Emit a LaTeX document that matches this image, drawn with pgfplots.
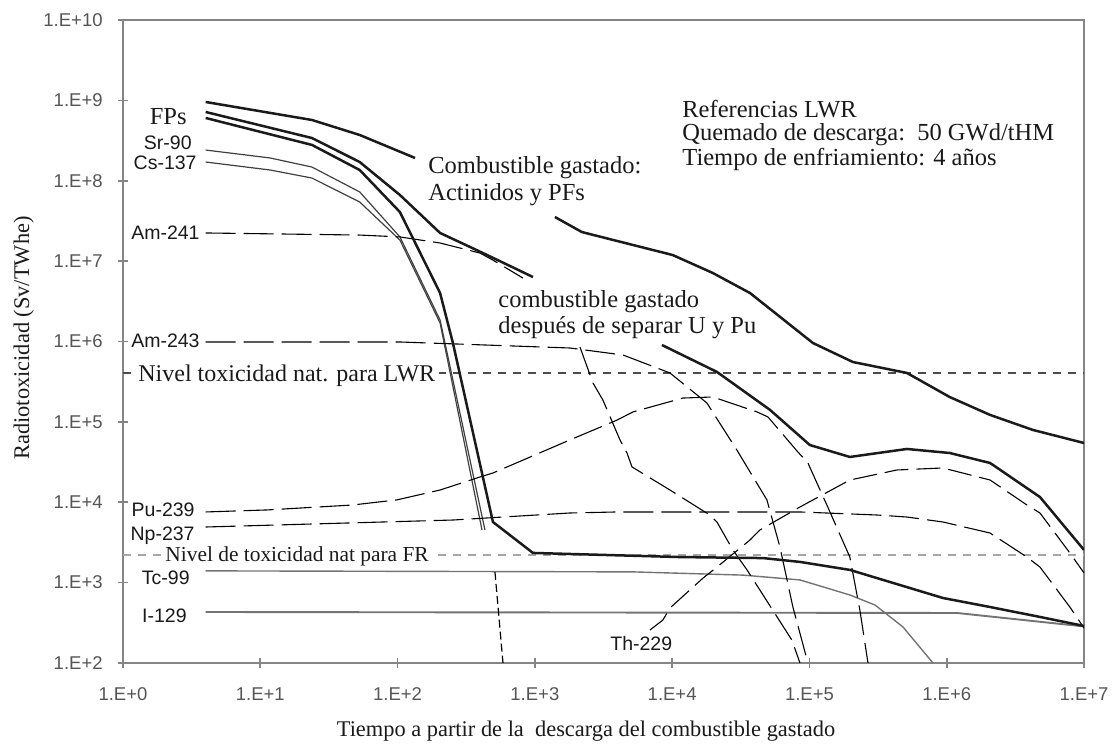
\documentclass[border=0pt]{standalone}
\usepackage{fontspec}
\setmainfont{Liberation Serif}
\newfontfamily\arial{Liberation Sans}
\usepackage{pgfplots}
\pgfplotsset{compat=1.18}

\definecolor{axisgray}{HTML}{858585}
\definecolor{tickgray}{HTML}{555555}
\definecolor{inkdark}{HTML}{1A1A1A}
\definecolor{thin}{HTML}{3A3A3A}

\newcommand\ann{\fontsize{12.25}{14}\selectfont}
\newcommand\axlab{\fontsize{11.2}{13}\selectfont}
\newcommand\iso{\arial\fontsize{9.75}{11}\selectfont}

\pgfplotsset{
  total/.style={inkdark, line width=1.25pt, line join=round},
  iso/.style={thin, line width=0.55pt, line join=round},
  isodash/.style={thin, line width=0.55pt, dash pattern=on 15pt off 4pt, line join=round},
}

\begin{document}
\begin{tikzpicture}
\path[use as bounding box] (0,0) rectangle (557.5pt,372pt);
\begin{axis}[
  at={(61.5pt,40.5pt)}, anchor=south west,
  width=480.5pt, height=321.5pt, scale only axis,
  xmode=log, ymode=log,
  xmin=1, xmax=1e7, ymin=1e2, ymax=1e10,
  xtick={1,10,100,1000,10000,100000,1000000,10000000},
  xticklabels={1.E+0,1.E+1,1.E+2,1.E+3,1.E+4,1.E+5,1.E+6,1.E+7},
  ytick={1e2,1e3,1e4,1e5,1e6,1e7,1e8,1e9,1e10},
  yticklabels={1.E+2,1.E+3,1.E+4,1.E+5,1.E+6,1.E+7,1.E+8,1.E+9,1.E+10},
  xminorticks=false, yminorticks=false,
  tick pos=left, tick align=center, major tick length=5pt,
  axis line style={draw=axisgray, line width=0.9pt},
  every tick/.style={draw=axisgray, line width=0.8pt},
  tick label style={font=\iso\fontsize{9.25}{11}\selectfont, text=tickgray, inner sep=0pt},
  xticklabel style={anchor=north},
  yticklabel style={anchor=east},
  xticklabel shift=9.5pt,
  yticklabel shift=7.5pt,
]

% natural toxicity levels
\addplot[black!70, line width=0.7pt, dash pattern=on 4pt off 3.5pt] coordinates {(1,4.06e5) (1e7,4.06e5)};
\addplot[black!35, line width=1pt, dash pattern=on 4pt off 3.5pt] coordinates {(1,2.21e3) (1e7,2.21e3)};

% long-lived fission products
\addplot[black!55, line width=0.7pt] coordinates {(4,1.4e3) (5180,1.36e3) (32800,1.24e3) (85300,1.08e3) (197000,702) (300000,527) (480000,281) (794000,100)};
\addplot[black!55, line width=0.95pt] coordinates {(4,431) (1.19e6,419) (1e7,285)};

% short-lived fission products
\addplot[iso, black!75, line width=0.6pt] coordinates {(4,2.41e8) (11.8,1.92e8) (23.8,1.48e8) (53,7.25e7) (104,2.0e7) (204,1.85e6) (433,4.52e3)};
\addplot[iso, black!75, line width=0.6pt] coordinates {(4,1.71e8) (11.8,1.36e8) (23.8,1.08e8) (53,5.44e7) (104,1.83e7) (204,1.7e6) (412,4.52e3)};
\addplot[thin, line width=0.6pt, dash pattern=on 4pt off 2pt] coordinates {(512,1.36e3) (586,100)};

% actinides
\addplot[isodash] coordinates {(4,2.24e7) (53,2.11e7) (104,2.0e7) (204,1.68e7) (398,1.26e7) (495,1.03e7) (819,6.16e6)};
\addplot[isodash] coordinates {(2130,8.55e5) (2650,3.05e5) (3130,1.87e5) (4170,5.96e4) (4690,4.1e4) (5100,2.75e4) (9640,1.42e4) (18800,6.94e3) (21200,5.68e3) (27700,2.55e3) (35100,1.44e3) (74500,193) (85300,100)};
\addplot[isodash] coordinates {(4,9.86e5) (104,9.86e5) (1800,8.3e5) (4390,6.79e5) (9640,4.06e5) (17900,1.72e5) (29600,4.47e4) (49000,1.07e4) (61000,2.77e3) (75800,497) (97500,100)};
\addplot[isodash] coordinates {(4,7.57e3) (11.2,8.02e3) (47,9.24e3) (99,1.07e4) (204,1.42e4) (398,2.06e4) (495,2.31e4) (1800,5.96e4) (3960,1.05e5) (5180,1.33e5) (12000,1.98e5) (19800,2.04e5) (41500,1.33e5) (49900,1.15e5) (82400,4.22e4) (97500,3.08e4) (136000,8.73e3) (197000,2.08e3) (233000,456) (267000,100)};
\addplot[isodash] coordinates {(4,4.92e3) (253,6.01e3) (1800,7.35e3) (3960,7.57e3) (85300,7.57e3) (310000,6.94e3) (513000,6.55e3) (938000,5.68e3) (2.07e6,4.14e3) (3.84e6,2.08e3) (4.78e6,1.56e3) (7.89e6,497) (1e7,272)};
\addplot[isodash, dash pattern=on 12pt off 4pt] coordinates {(6890,257) (8570,343) (9640,483) (16800,1.14e3) (21200,1.56e3) (36900,3.39e3) (43600,4.52e3) (85300,8.73e3) (197000,1.89e4) (434000,2.52e4) (938000,2.67e4) (2.07e6,1.89e4) (3.84e6,9.24e3) (4.78e6,7.35e3) (7.89e6,2.34e3) (1e7,1.32e3)};

% totals
\addplot[total] coordinates {(4,6.04e8) (23.8,2.79e8) (53,1.36e8) (104,4.08e7) (204,4.01e6) (253,9.58e5) (495,5.68e3) (969,2.34e3) (11400,2.08e3) (45900,2.02e3) (85300,1.81e3) (197000,1.44e3) (938000,644) (2.07e6,497) (4.78e6,374) (1e7,289)};
\addplot[total] coordinates {(4,7.17e8) (23.8,3.4e8) (53,1.71e8) (104,6.65e7) (204,2.24e7) (419,1.26e7) (969,6.34e6)};
\addplot[total] coordinates {(8430,9.04e5) (21200,4.18e5) (51600,1.41e5) (100700,5.15e4) (197000,3.66e4) (513000,4.6e4) (1.05e6,4.1e4) (2.07e6,3.08e4) (4.78e6,1.16e4) (1e7,2.55e3)};
\addplot[total] coordinates {(4,9.55e8) (23.8,5.7e8) (53,3.71e8) (134,1.92e8)};
\addplot[total] coordinates {(1400,3.54e7) (2200,2.3e7) (10100,1.19e7) (19800,7.11e6) (36900,4.01e6) (106000,9.58e5) (207000,5.56e5) (513000,4.06e5) (1.05e6,2.04e5) (2.07e6,1.22e5) (4.25e6,7.93e4) (1e7,5.46e4)};
\end{axis}

\begin{scope}[x=0.5pt, y=-0.5pt, yshift=372pt, every node/.style={inner sep=0pt, text=inkdark}]
  % curve names
  \node[anchor=base east, font=\ann] at (187,125) {FPs};
  \node[anchor=base east, font=\iso] at (192,150) {Sr-90};
  \node[anchor=base east, font=\iso] at (197,170) {Cs-137};
  \node[anchor=base east, font=\iso] at (200,240) {Am-241};
  \node[anchor=base east, font=\iso] at (200,348) {Am-243};
  \node[anchor=base east, font=\iso] at (195,517) {Pu-239};
  \node[anchor=base east, font=\iso] at (195,541) {Np-237};
  \node[anchor=base east, font=\iso] at (190,585) {Tc-99};
  \node[anchor=base east, font=\iso] at (187,623) {I-129};
  \node[anchor=base west, font=\iso] at (610,651) {Th-229};
  % level labels
  \node[anchor=base west, font=\fontsize{12}{14}\selectfont, fill=white, inner xsep=2pt, inner ysep=1.5pt] at (134,382) {Nivel toxicidad nat. para LWR};
  \node[anchor=base west, font=\fontsize{10.7}{13}\selectfont, fill=white, inner xsep=2pt, inner ysep=1.5pt] at (161,562) {Nivel de toxicidad nat para FR};
  % curve annotations
  \node[anchor=base west, font=\ann] at (428,174) {Combustible gastado:};
  \node[anchor=base west, font=\ann] at (428,201) {Actinidos y PFs};
  \node[anchor=base west, font=\ann] at (498,308) {combustible gastado};
  \node[anchor=base west, font=\ann] at (498,334) {después de separar U y Pu};
  \node[anchor=base west, font=\ann] at (682,118) {Referencias LWR};
  \node[anchor=base west, font=\ann] at (682,141) {Quemado de descarga:\ \ 50 GWd/tHM};
  \node[anchor=base west, font=\ann] at (682,166) {Tiempo de enfriamiento: 4 años};
  % axis titles
  \node[anchor=base, font=\axlab] at (586,737) {Tiempo a partir de la\ \ descarga del combustible gastado};
  \node[anchor=base, font=\axlab, rotate=90] at (29,338) {Radiotoxicidad (Sv/TWhe)};
\end{scope}
\end{tikzpicture}
\end{document}
